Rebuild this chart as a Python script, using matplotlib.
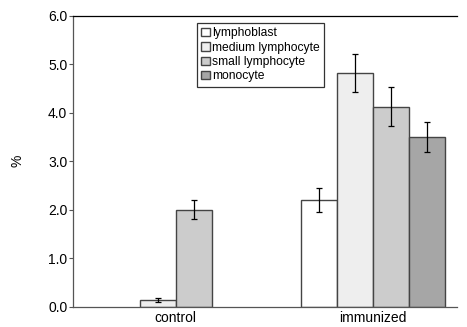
import numpy as np
import matplotlib.pyplot as plt

groups = ["control", "immunized"]
cell_types = ["lymphoblast", "medium lymphocyte", "small lymphocyte", "monocyte"]
# percent values per cell type, one entry per group
means = {
    "lymphoblast": [0.0, 2.2],
    "medium lymphocyte": [0.14, 4.82],
    "small lymphocyte": [2.0, 4.12],
    "monocyte": [0.0, 3.5],
}
errors = {
    "lymphoblast": [0.0, 0.25],
    "medium lymphocyte": [0.05, 0.4],
    "small lymphocyte": [0.2, 0.4],
    "monocyte": [0.0, 0.3],
}
fills = ["#ffffff", "#eeeeee", "#cccccc", "#a6a6a6"]

plt.rcParams["font.family"] = ["Liberation Sans", "DejaVu Sans"]

fig = plt.figure(figsize=(4.67, 3.27), dpi=100)
ax = fig.add_axes([0.156, 0.062, 0.822, 0.890])

x = np.arange(len(groups))
width = 0.183
offsets = (np.arange(len(cell_types)) - 1.5) * width

for name, off, fc in zip(cell_types, offsets, fills):
    vals = np.array(means[name])
    errs = np.array(errors[name])
    shown = vals > 0
    # empty bars are left out so no outline sits on the baseline
    ax.bar((x + off)[shown], vals[shown], width, color=fc, edgecolor="#444444",
           linewidth=1.0, label=name, zorder=2)
    ax.errorbar((x + off)[shown], vals[shown], yerr=errs[shown], fmt="none",
                ecolor="black", elinewidth=0.9, capsize=2.5, capthick=0.9,
                zorder=3)

ticks = np.arange(0, 6.01, 1.0)
ax.set_xlim(-0.523, 1.426)
ax.set_ylim(0, 6.0)
ax.set_yticks(ticks)
ax.set_yticklabels([f"{v:.1f}" for v in ticks], fontsize=10)
ax.set_xticks(x)
ax.set_xticklabels(groups, fontsize=10)
ax.tick_params(axis="x", length=0, pad=3)
ax.tick_params(axis="y", length=3, width=0.8, color="#555555", pad=1)
ax.set_ylabel("%", fontsize=10, labelpad=17)

ax.spines["right"].set_visible(False)
ax.spines["left"].set_color("#555555")
ax.spines["bottom"].set_color("#555555")
ax.spines["top"].set_color("black")
for s in ax.spines.values():
    s.set_linewidth(0.9)

leg = ax.legend(loc="upper left", bbox_to_anchor=(0.324, 0.975), fontsize=8.7,
                frameon=True, fancybox=False, handlelength=0.7,
                handleheight=0.7, handletextpad=0.2, borderpad=0.35,
                labelspacing=0.2, borderaxespad=0)
leg.get_frame().set_edgecolor("black")
leg.get_frame().set_linewidth(0.9)

fig.savefig("out.png", dpi=100)
